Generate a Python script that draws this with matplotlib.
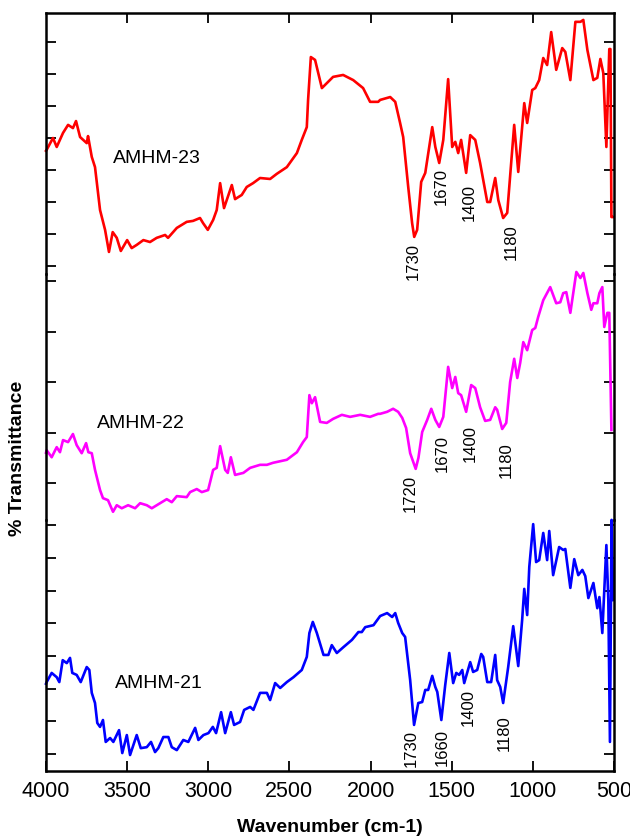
import matplotlib
matplotlib.use("Agg")
import matplotlib.pyplot as plt

plt.rcParams['font.family'] = ['Liberation Sans', 'DejaVu Sans']

# AMHM-23 spectrum (top)
wn23 = [4000, 3996, 3957, 3934, 3895, 3864, 3834, 3815, 3790, 3749, 3741, 3718, 3698, 3667,
        3636, 3612, 3589, 3564, 3539, 3500, 3472, 3441, 3400, 3359, 3318, 3266, 3248, 3194,
        3133, 3094, 3051, 3032, 3003, 2970, 2948, 2927, 2903, 2855, 2835, 2794, 2763, 2724,
        2681, 2619, 2578, 2516, 2454, 2424, 2393, 2385, 2368, 2342, 2300, 2231, 2169, 2107,
        2046, 2003, 1953, 1941, 1879, 1848, 1818, 1799, 1768, 1744, 1731, 1713, 1688, 1663,
        1620, 1601, 1577, 1552, 1522, 1497, 1478, 1460, 1442, 1411, 1386, 1355, 1325, 1281,
        1263, 1232, 1213, 1183, 1158, 1115, 1090, 1053, 1035, 1004, 985, 961, 936, 912, 887,
        856, 819, 800, 769, 738, 707, 689, 664, 627, 603, 584, 566, 547, 529, 522, 516, 508]
t23 = [56.0, 56.3, 60.0, 57.2, 61.6, 64.1, 63.1, 65.3, 60.3, 58.4, 60.6, 54.1, 50.9, 37.5,
       31.3, 24.4, 30.6, 28.8, 24.7, 28.1, 25.6, 26.6, 28.1, 27.5, 28.8, 29.7, 28.8, 31.9,
       33.8, 34.1, 35.0, 33.4, 31.3, 34.4, 37.5, 45.9, 38.1, 45.3, 40.9, 42.2, 44.7, 45.9,
       47.5, 47.2, 48.8, 50.9, 55.3, 59.4, 63.4, 71.9, 85.3, 84.4, 75.6, 79.1, 79.7, 78.1,
       75.6, 71.3, 71.3, 71.9, 72.8, 71.3, 64.7, 60.3, 44.7, 33.4, 29.1, 31.3, 46.3, 49.1,
       63.4, 57.2, 52.2, 59.4, 78.4, 57.2, 58.8, 55.3, 59.4, 49.1, 60.9, 59.4, 52.2, 40.0,
       40.0, 47.5, 40.6, 35.0, 36.6, 64.1, 49.4, 70.9, 64.7, 75.0, 75.6, 78.1, 85.0, 82.8, 93.1,
       81.3, 88.1, 86.9, 78.1, 96.3, 96.3, 96.9, 87.5, 78.1, 78.8, 84.7, 80.3, 57.2, 87.8, 87.8, 35.3, 35.3]

# AMHM-22 spectrum (middle)
wn22 = [4000, 3996, 3965, 3934, 3914, 3895, 3864, 3834, 3811, 3780, 3753, 3739, 3718, 3698,
        3667, 3649, 3618, 3587, 3564, 3533, 3494, 3451, 3420, 3379, 3348, 3297, 3256, 3225,
        3194, 3133, 3112, 3071, 3040, 3001, 2970, 2948, 2927, 2896, 2880, 2861, 2835, 2784,
        2742, 2681, 2639, 2601, 2516, 2454, 2416, 2393, 2377, 2362, 2342, 2311, 2270, 2231,
        2177, 2126, 2064, 2003, 1953, 1941, 1898, 1861, 1830, 1805, 1781, 1756, 1722, 1705,
        1682, 1651, 1626, 1601, 1577, 1552, 1522, 1497, 1478, 1460, 1442, 1411, 1380, 1355,
        1325, 1294, 1263, 1232, 1220, 1189, 1164, 1140, 1115, 1096, 1078, 1059, 1035, 1004,
        985, 967, 936, 893, 856, 831, 813, 794, 769, 732, 707, 689, 664, 640, 627, 603, 590,
        572, 560, 541, 529, 516]
t22 = [26.0, 26.5, 25.1, 27.1, 26.1, 28.5, 28.1, 29.7, 27.5, 25.9, 27.9, 26.1, 25.9, 22.6,
       18.6, 17.0, 16.6, 14.3, 15.6, 15.0, 15.6, 15.0, 16.0, 15.6, 15.0, 16.0, 16.8, 16.2,
       17.4, 17.2, 18.2, 18.8, 18.2, 18.6, 22.6, 23.0, 27.3, 22.6, 22.0, 25.1, 21.6, 22.0,
       23.0, 23.6, 23.6, 24.0, 24.6, 26.1, 28.1, 29.1, 37.4, 35.8, 37.0, 32.1, 31.9, 32.7,
       33.5, 33.1, 33.5, 33.1, 33.7, 33.7, 34.1, 34.7, 34.1, 32.9, 30.9, 25.9, 22.8, 25.0,
       30.1, 32.5, 34.7, 32.5, 31.1, 33.1, 43.0, 38.8, 41.0, 37.8, 37.4, 34.1, 39.4, 38.8,
       35.0, 32.3, 32.5, 35.0, 34.5, 30.7, 31.9, 40.0, 44.6, 40.8, 43.8, 47.9, 46.3, 50.3,
       50.7, 52.9, 56.2, 58.8, 55.6, 55.8, 57.6, 57.8, 53.7, 61.8, 60.6, 61.6, 57.6, 54.3, 55.6, 55.6, 57.6,
       58.8, 50.9, 53.7, 53.7, 30.5]

# AMHM-21 spectrum (bottom)
wn21 = [4000, 3996, 3965, 3934, 3918, 3897, 3872, 3852, 3838, 3811, 3786, 3749, 3733, 3718,
        3698, 3684, 3667, 3649, 3632, 3605, 3585, 3550, 3530, 3502, 3482, 3441, 3416, 3379,
        3353, 3328, 3308, 3277, 3246, 3225, 3194, 3154, 3123, 3081, 3061, 3030, 2999, 2972,
        2952, 2921, 2896, 2861, 2841, 2804, 2779, 2742, 2722, 2681, 2639, 2619, 2588, 2557,
        2516, 2475, 2424, 2393, 2377, 2356, 2331, 2290, 2260, 2239, 2208, 2167, 2115, 2075,
        2054, 2033, 1982, 1941, 1898, 1867, 1848, 1830, 1805, 1787, 1756, 1732, 1706, 1682,
        1663, 1645, 1620, 1601, 1589, 1564, 1540, 1515, 1491, 1472, 1454, 1435, 1423, 1386,
        1368, 1343, 1318, 1306, 1281, 1257, 1232, 1220, 1201, 1183, 1152, 1121, 1090, 1066,
        1053, 1035, 1022, 998, 980, 961, 936, 912, 899, 875, 838, 813, 800, 769, 745, 720,
        695, 677, 658, 627, 603, 590, 572, 547, 535, 525, 515, 505]
t21 = [31.5, 32.0, 34.8, 33.5, 32.0, 38.7, 37.8, 39.4, 34.8, 34.2, 32.0, 36.6, 35.7, 28.7,
       25.6, 19.5, 18.3, 20.4, 13.7, 14.9, 13.7, 17.3, 10.3, 15.8, 9.7, 15.8, 11.8, 12.1,
       13.7, 10.6, 11.8, 15.2, 15.2, 12.1, 11.2, 14.3, 13.7, 18.0, 14.3, 15.8, 16.4, 18.3,
       16.4, 22.8, 16.4, 22.8, 18.9, 19.8, 23.5, 24.4, 23.5, 28.7, 28.7, 26.5, 31.7, 30.2,
       32.0, 33.5, 35.7, 39.7, 47.0, 50.4, 47.0, 40.3, 40.3, 43.3, 40.9, 42.7, 44.9, 47.3,
       47.3, 48.8, 49.4, 52.2, 53.1, 51.9, 53.1, 50.1, 47.0, 45.8, 32.6, 18.9, 25.6, 25.9,
       29.6, 29.6, 33.9, 30.5, 29.0, 20.4, 31.1, 40.9, 31.7, 34.8, 34.2, 35.7, 31.7, 38.1,
       35.1, 35.7, 40.6, 39.7, 32.0, 32.0, 40.3, 32.6, 30.5, 25.6, 36.6, 49.1, 36.9, 51.0,
       60.5, 52.5, 67.2, 80.3, 68.7, 69.3, 77.6, 69.3, 78.2, 64.7, 73.3, 72.4, 72.7, 60.8, 69.6, 64.7,
       66.3, 64.4, 57.7, 62.3, 54.6, 58.0, 47.0, 73.9, 57.1, 13.7, 81.6, 57.1]

# peak annotations: (text, wavenumber, transmittance)
peaks23 = [("1730", 1737, 21.3), ("1670", 1565, 44.7), ("1400", 1392, 40.0), ("1180", 1133, 27.5)]
peaks22 = [("1720", 1756, 18.0), ("1670", 1559, 25.9), ("1400", 1386, 27.9), ("1180", 1164, 24.6)]
peaks21 = [("1730", 1750, 11.8), ("1660", 1559, 12.1), ("1400", 1398, 24.1), ("1180", 1176, 16.4)]

fig = plt.figure(figsize=(6.3, 8.39), dpi=100)
L, W = 46 / 630, 568 / 630
ax_top = fig.add_axes([L, 0.6734, W, 0.3111])
ax_mid = fig.add_axes([L, 0.3802, W, 0.2932])
ax_bot = fig.add_axes([L, 0.0810, W, 0.2992])

panels = [
    (ax_top, wn23, t23, '#ff0000', (17.5, 99.06), range(20, 91, 10), "AMHM-23", (3587, 53.75), peaks23),
    (ax_mid, wn22, t22, '#ff00ff', (12.67, 61.39), range(20, 61, 10), "AMHM-22", (3686, 31.7), peaks22),
    (ax_bot, wn21, t21, '#0000ff', (4.8, 81.56), range(10, 81, 10), "AMHM-21", (3575, 31.7), peaks21),
]

for ax, x, y, col, ylim, yt, name, npos, pk in panels:
    ax.patch.set_visible(False)
    ax.plot(x, y, color=col, lw=1.9, clip_on=False)
    ax.set_xlim(4000, 500)
    ax.set_ylim(*ylim)
    ax.set_yticks(list(yt))
    ax.set_xticks([3500, 3000, 2500, 2000, 1500, 1000])
    for s in ax.spines.values():
        s.set_linewidth(1.8)
    ax.tick_params(axis='y', direction='in', left=True, right=True, length=7, width=1.3,
                   labelleft=False)
    ax.tick_params(axis='x', direction='in', length=7, width=1.3, top=False, bottom=False,
                   labelbottom=False)
    ax.text(npos[0], npos[1], name, fontsize=14, ha='left', va='center')
    for lab, px, py in pk:
        ax.text(px, py, lab, fontsize=12, rotation=90, ha='center', va='center')

ax_top.spines['bottom'].set_visible(False)
ax_top.tick_params(axis='x', top=True)
ax_mid.spines['top'].set_visible(False)
ax_mid.spines['bottom'].set_visible(False)
ax_bot.spines['top'].set_visible(False)
ax_bot.set_xticks([4000, 3500, 3000, 2500, 2000, 1500, 1000, 500])
ax_bot.tick_params(axis='x', bottom=True, labelbottom=True, labelsize=15.5, pad=7)

fig.text(330 / 630, 1 - 828 / 839, "Wavenumber (cm-1)", fontsize=14, fontweight='bold',
         ha='center', va='center')
fig.text(18 / 630, 1 - 458 / 839, "% Transmittance", fontsize=14, fontweight='bold',
         rotation=90, ha='center', va='center')

fig.savefig("out.png", dpi=100)
